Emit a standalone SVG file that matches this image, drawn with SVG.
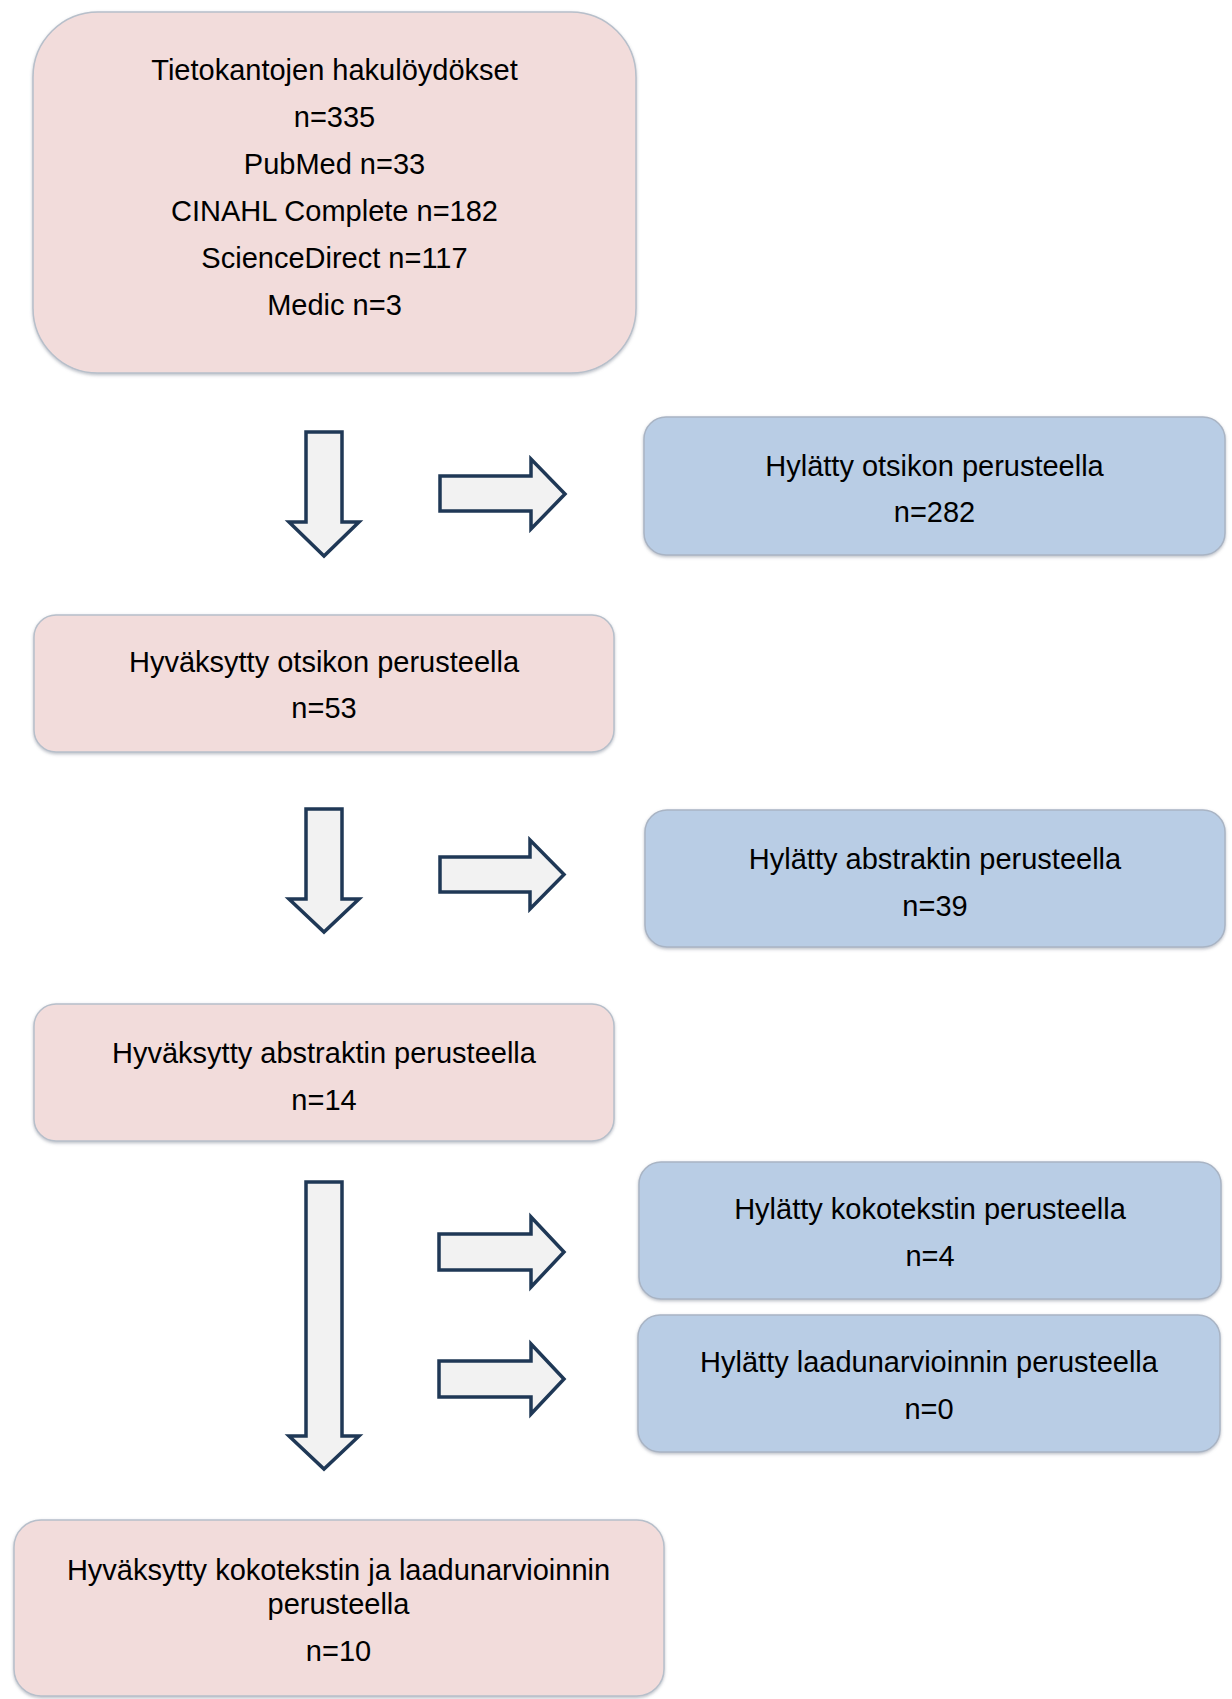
<svg xmlns="http://www.w3.org/2000/svg" width="1232" height="1699" viewBox="0 0 1232 1699">
<defs>
<filter id="sh" x="-5%" y="-5%" width="110%" height="115%">
<feDropShadow dx="0" dy="1.5" stdDeviation="1.5" flood-color="#6b7585" flood-opacity="0.45"/>
</filter>
<style>
.pink{fill:#f2dcdb;stroke:#b7bfca;stroke-width:1.5;filter:url(#sh)}
.blue{fill:#b9cde5;stroke:#a9b4c4;stroke-width:1.5;filter:url(#sh)}
.t{font-family:"Liberation Sans",Arial,sans-serif;font-size:29px;fill:#000;text-anchor:middle}
.arr{fill:#f2f2f2;stroke:#1f3856;stroke-width:3.5;stroke-linejoin:miter}
</style>
</defs>
<rect width="1232" height="1699" fill="#fff"/>
<g id="n1">
<rect class="pink" x="33" y="12" width="603" height="361" rx="65" ry="65"/>
<text class="t" x="334.5" y="80">Tietokantojen hakulöydökset</text>
<text class="t" x="334.5" y="127">n=335</text>
<text class="t" x="334.5" y="174">PubMed n=33</text>
<text class="t" x="334.5" y="221">CINAHL Complete n=182</text>
<text class="t" x="334.5" y="268">ScienceDirect n=117</text>
<text class="t" x="334.5" y="315">Medic n=3</text>
</g>
<g id="n2">
<rect class="blue" x="644" y="417" width="581" height="138" rx="22" ry="22"/>
<text class="t" x="934.5" y="476">Hylätty otsikon perusteella</text>
<text class="t" x="934.5" y="522">n=282</text>
</g>
<g id="n3">
<rect class="pink" x="34" y="615" width="580" height="137" rx="22" ry="22"/>
<text class="t" x="324" y="672">Hyväksytty otsikon perusteella</text>
<text class="t" x="324" y="718">n=53</text>
</g>
<g id="n4">
<rect class="blue" x="645" y="810" width="580" height="137" rx="22" ry="22"/>
<text class="t" x="935" y="869">Hylätty abstraktin perusteella</text>
<text class="t" x="935" y="916">n=39</text>
</g>
<g id="n5">
<rect class="pink" x="34" y="1004" width="580" height="137" rx="22" ry="22"/>
<text class="t" x="324" y="1063">Hyväksytty abstraktin perusteella</text>
<text class="t" x="324" y="1110">n=14</text>
</g>
<g id="n6">
<rect class="blue" x="639" y="1162" width="582" height="137" rx="22" ry="22"/>
<text class="t" x="930" y="1219">Hylätty kokotekstin perusteella</text>
<text class="t" x="930" y="1266">n=4</text>
</g>
<g id="n7">
<rect class="blue" x="638" y="1315" width="582" height="137" rx="22" ry="22"/>
<text class="t" x="929" y="1372">Hylätty laadunarvioinnin perusteella</text>
<text class="t" x="929" y="1419">n=0</text>
</g>
<g id="n8">
<rect class="pink" x="14" y="1520" width="650" height="176" rx="27" ry="27"/>
<text class="t" x="338.5" y="1580">Hyväksytty kokotekstin ja laadunarvioinnin</text>
<text class="t" x="338.5" y="1614">perusteella</text>
<text class="t" x="338.5" y="1661">n=10</text>
</g>
<g id="connectors">
<path class="arr" d="M306,432 H342 V522 H359 L324,556 L289,522 H306 Z"/>
<path class="arr" d="M440,476 H531 V459 L565,494 L531,529 V511 H440 Z"/>
<path class="arr" d="M306,809 H342 V899 H359 L324,932 L289,899 H306 Z"/>
<path class="arr" d="M440,857 H530 V840 L564,874.5 L530,909 V892 H440 Z"/>
<path class="arr" d="M306,1182 H342 V1436 H359 L324,1469 L289,1436 H306 Z"/>
<path class="arr" d="M439,1234 H531 V1217 L564,1252 L531,1287 V1270 H439 Z"/>
<path class="arr" d="M439,1361 H531 V1344 L564,1379 L531,1414 V1397 H439 Z"/>
</g>
</svg>
